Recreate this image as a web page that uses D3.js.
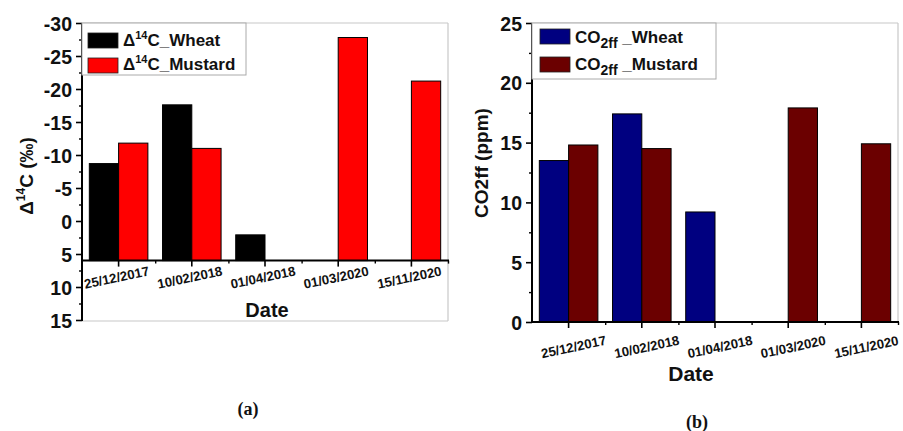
<!DOCTYPE html>
<html><head><meta charset="utf-8">
<script src="https://cdn.jsdelivr.net/npm/d3@7"></script>
<style>
body{margin:0;background:#fff}
svg{display:block}
text{font-family:"Liberation Sans",Arial,sans-serif;font-weight:bold;fill:#111}
</style>
</head><body><svg id="c" width="903" height="431"></svg>
<script>
// ---- data ----
const categories = ["25/12/2017","10/02/2018","01/04/2018","01/03/2020","15/11/2020"];
const seriesNames = ["Wheat","Mustard"];
const d14cWheat   = [-8.7, -17.6, 2.1, null, null];
const d14cMustard = [-11.8, -11.0, null, -27.8, -21.2];
const co2ffWheat   = [13.5, 17.4, 9.2, null, null];
const co2ffMustard = [14.8, 14.5, null, 17.9, 14.9];
const yTicksA = [-30,-25,-20,-15,-10,-5,0,5,10,15];
const yTicksB = [0,5,10,15,20,25];
const baselineA = 6;
const baselineB = 0;

const svg = d3.select("#c");

function panel(o){
  const g = svg.append("g").attr("transform",`translate(${o.left},${o.top})`);
  const W = o.width, H = o.height;
  const y = d3.scaleLinear().domain(o.yDomain).range(o.yRange);
  const x0 = d3.scaleBand().domain(categories).range([0,W]).padding(0);
  const bw = x0.bandwidth();
  const x1 = d3.scaleBand().domain(seriesNames).range([0.1*bw,0.9*bw]).padding(0);
  const xLin = d3.scaleLinear().domain([0,categories.length]).range([0,W]);
  const baseY = y(o.baseline);

  // frame (light gray)
  g.append("line").attr("x1",0).attr("x2",W).attr("y1",0).attr("y2",0).attr("stroke","#c8c8c8").attr("stroke-width",1.2);
  g.append("line").attr("x1",W).attr("x2",W).attr("y1",0).attr("y2",H).attr("stroke","#c8c8c8").attr("stroke-width",1.2);
  g.append("line").attr("x1",0).attr("x2",W).attr("y1",H).attr("y2",H).attr("stroke","#c8c8c8").attr("stroke-width",1.2);

  // bars
  const series = [o.s1, o.s2];
  series.forEach((vals,si)=>{
    g.append("g").selectAll("rect")
      .data(categories.map((c,i)=>({c,v:vals[i]})).filter(d=>d.v!==null))
      .join("rect")
      .attr("x",d=>x0(d.c)+x1(seriesNames[si]))
      .attr("width",x1.bandwidth())
      .attr("y",d=>Math.min(y(d.v),baseY))
      .attr("height",d=>Math.abs(y(d.v)-baseY))
      .attr("fill",o.colors[si]).attr("stroke","#000").attr("stroke-width",1);
  });

  // y axis
  const minor = d3.range(o.yTicks.length-1).map(i=>(o.yTicks[i]+o.yTicks[i+1])/2);
  const ya = g.append("g").call(d3.axisLeft(y).tickValues(o.yTicks).tickSize(6).tickPadding(4).tickFormat(d=>String(d)));
  ya.select(".domain").remove();
  ya.selectAll("line").attr("stroke","#000").attr("stroke-width",1.6);
  ya.selectAll("text").attr("font-size",19.5).attr("font-family","Liberation Sans, Arial, sans-serif").attr("font-weight","bold").attr("fill","#111").attr("dy","0.36em");
  const ym = g.append("g").call(d3.axisLeft(y).tickValues(minor).tickSize(3).tickFormat(""));
  ym.select(".domain").remove();
  ym.selectAll("line").attr("stroke","#000").attr("stroke-width",1.4);
  g.append("line").attr("x1",0).attr("x2",0).attr("y1",0).attr("y2",H).attr("stroke","#000").attr("stroke-width",2);

  // x axis
  const xa = g.append("g").attr("transform",`translate(0,${baseY})`);
  xa.append("g").call(d3.axisBottom(x0).tickSize(6).tickFormat(""))
    .call(s=>{s.select(".domain").remove(); s.selectAll("line").attr("stroke","#000").attr("stroke-width",1.6);});
  xa.append("g").call(d3.axisBottom(xLin).tickValues(d3.range(1,categories.length+1)).tickSize(3).tickFormat(""))
    .call(s=>{s.select(".domain").remove(); s.selectAll("line").attr("stroke","#000").attr("stroke-width",1.4);});
  xa.append("line").attr("x1",0).attr("x2",W+1).attr("y1",0).attr("y2",0).attr("stroke","#000").attr("stroke-width",2);
  xa.selectAll("text.xl").data(categories).join("text").attr("class","xl")
    .attr("transform",c=>`translate(${x0(c)+bw/2+o.xLabelDx},${o.xLabelDy}) rotate(-12)`)
    .attr("text-anchor","middle").attr("dominant-baseline","central")
    .attr("font-size",13.2).text(c=>c);

  // legend
  const lg = g.append("g");
  lg.append("rect").attr("x",0).attr("y",0).attr("width",o.legW).attr("height",o.legH)
    .attr("fill","#fff").attr("stroke","#aaa").attr("stroke-width",1);
  o.legendLabels.forEach((lab,i)=>{
    lg.append("rect").attr("x",o.sw.x).attr("y",o.sw.y[i]).attr("width",30).attr("height",o.sw.h)
      .attr("fill",o.colors[i]).attr("stroke","#222").attr("stroke-width",0.8);
    const t = lg.append("text").attr("x",o.sw.x+35).attr("y",o.legBase[i]).attr("font-size",17);
    lab.forEach(p=>{
      const ts = t.append("tspan").text(p.t);
      if(p.f) ts.attr("font-size",p.f);
      if(p.dy) ts.attr("dy",p.dy);
    });
  });
  return {g,y,x0};
}

// Panel (a)
panel({
  left:82, top:23, width:366, height:298,
  yDomain:[-30,15], yRange:[0,297], baseline:baselineA,
  s1:d14cWheat, s2:d14cMustard, colors:["#000000","#ff0000"],
  yTicks:yTicksA, xLabelDx:-2, xLabelDy:17,
  legW:164, legH:52, sw:{x:6,y:[10,35],h:15}, legBase:[23,47],
  legendLabels:[
    [{t:"\u0394"},{t:"14",f:11,dy:-7},{t:"C_Wheat",f:17,dy:7}],
    [{t:"\u0394"},{t:"14",f:11,dy:-7},{t:"C_Mustard",f:17,dy:7}]
  ]
});

// Panel (b)
panel({
  left:532, top:23, width:366, height:299,
  yDomain:[0,25], yRange:[299,0], baseline:baselineB,
  s1:co2ffWheat, s2:co2ffMustard, colors:["#000080","#6b0000"],
  yTicks:yTicksB, xLabelDx:5, xLabelDy:25,
  legW:184, legH:56, sw:{x:8,y:[6,34],h:15}, legBase:[20,47],
  legendLabels:[
    [{t:"CO"},{t:"2ff",f:14,dy:5},{t:" _Wheat",f:17,dy:-5}],
    [{t:"CO"},{t:"2ff",f:14,dy:5},{t:" _Mustard",f:17,dy:-5}]
  ]
});

// axis titles
const tA = svg.append("text").attr("transform","translate(33,176) rotate(-90)").attr("text-anchor","middle").attr("font-size",19);
tA.append("tspan").text("\u0394");
tA.append("tspan").text("14").attr("font-size",12).attr("dy",-8);
tA.append("tspan").text("C (\u2030)").attr("font-size",19).attr("dy",8);
svg.append("text").attr("transform","translate(488,163) rotate(-90)").attr("text-anchor","middle").attr("font-size",19).text("CO2ff (ppm)");
svg.append("text").attr("x",267).attr("y",317).attr("text-anchor","middle").attr("font-size",20).text("Date");
svg.append("text").attr("x",691).attr("y",381).attr("text-anchor","middle").attr("font-size",21).text("Date");

// panel letters
svg.append("text").attr("x",248).attr("y",415).attr("text-anchor","middle").attr("font-size",18)
  .style("font-family","'Liberation Serif','Times New Roman',serif").text("(a)");
svg.append("text").attr("x",697).attr("y",428).attr("text-anchor","middle").attr("font-size",18)
  .style("font-family","'Liberation Serif','Times New Roman',serif").text("(b)");
</script></body></html>
